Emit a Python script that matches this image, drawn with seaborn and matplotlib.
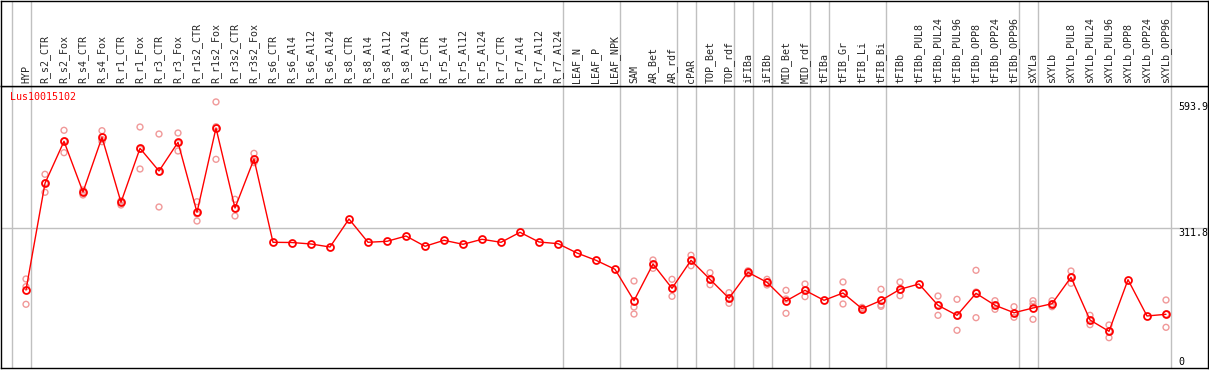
import numpy as np
import pandas as pd
import seaborn as sns
import matplotlib.pyplot as plt
import matplotlib.transforms as mtransforms

gene = "Lus10015102"

samples = [
    "HYP",
    "R_s2_CTR", "R_s2_Fox", "R_s4_CTR", "R_s4_Fox", "R_r1_CTR", "R_r1_Fox",
    "R_r3_CTR", "R_r3_Fox", "R_r1s2_CTR", "R_r1s2_Fox", "R_r3s2_CTR", "R_r3s2_Fox",
    "R_s6_CTR", "R_s6_Al4", "R_s6_Al12", "R_s6_Al24",
    "R_s8_CTR", "R_s8_Al4", "R_s8_Al12", "R_s8_Al24",
    "R_r5_CTR", "R_r5_Al4", "R_r5_Al12", "R_r5_Al24",
    "R_r7_CTR", "R_r7_Al4", "R_r7_Al12", "R_r7_Al24",
    "LEAF_N", "LEAF_P", "LEAF_NPK",
    "SAM", "AR_Bet", "AR_rdf", "cPAR", "TOP_Bet", "TOP_rdf",
    "iFIBa", "iFIBb", "MID_Bet", "MID_rdf",
    "tFIBa", "tFIB_Gr", "tFIB_Li", "tFIB_Bi",
    "tFIBb", "tFIBb_PUL8", "tFIBb_PUL24", "tFIBb_PUL96",
    "tFIBb_OPP8", "tFIBb_OPP24", "tFIBb_OPP96",
    "sXYLa", "sXYLb", "sXYLb_PUL8", "sXYLb_PUL24", "sXYLb_PUL96",
    "sXYLb_OPP8", "sXYLb_OPP24", "sXYLb_OPP96",
]

means = [
    174.1,
    412.3, 506.0, 392.9, 515.0, 369.9, 490.4,
    439.7, 503.8, 347.5, 535.7, 357.1, 466.5,
    280.6, 280.1, 276.8, 270.1,
    332.6, 280.6, 282.8, 294.6,
    271.7, 285.0, 276.1, 287.3,
    280.6, 302.9, 281.3, 277.5,
    256.7, 240.4, 220.3,
    150.2, 232.1, 177.9, 240.4, 198.0, 155.6,
    213.6, 191.3, 149.6, 173.4,
    151.1, 167.4, 132.4, 150.7,
    175.7, 187.5, 140.0, 117.6,
    166.7, 140.0, 123.4,
    133.9, 143.5, 202.5, 107.1, 81.9,
    197.1, 116.1, 119.9,
]

replicates = [
    [198.7, 181.5, 142.2],
    [432.4, 413.0, 392.2], [530.6, 506.7, 480.6], [397.3, 392.9, 386.2],
    [529.7, 509.8, 505.1], [373.4, 370.5, 363.8], [537.9, 488.8, 444.2],
    [522.3, 437.5, 359.4], [524.6, 502.2, 484.4], [371.2, 343.8, 328.1],
    [593.9, 538.6, 465.8], [376.6, 355.6, 339.3], [479.2, 462.1, 458.3],
    [], [], [], [],
    [], [], [], [],
    [], [], [], [],
    [], [], [], [],
    [], [], [],
    [194.2, 136.2, 120.5], [241.1, 232.1, 222.5], [198.0, 176.3, 160.0],
    [251.6, 241.1, 228.3], [212.7, 196.4, 185.9], [168.1, 154.0, 144.4],
    [210.0, 214.0, 217.0], [198.0, 191.3, 185.3], [173.4, 154.0, 122.1],
    [187.5, 174.1, 159.2],
    [], [192.0, 167.4, 142.9], [129.4, 132.4, 135.3], [175.7, 140.6, 137.7],
    [192.0, 174.1, 161.4], [], [160.7, 140.6, 117.6], [153.3, 116.1, 84.2],
    [218.1, 169.6, 112.3], [150.2, 140.6, 131.0], [136.8, 122.8, 113.2],
    [150.2, 142.9, 108.7], [150.2, 143.5, 136.8], [216.5, 202.5, 189.1],
    [117.6, 107.1, 96.7], [96.0, 81.9, 67.6],
    [], [], [151.8, 119.9, 90.8],
]

# group boundaries (index of first sample in each group)
group_starts = [0, 1, 29, 32, 35, 36, 38, 39, 40, 42, 43, 46, 53, 54, 61]
axis_ticks = [593.9, 311.8]

pos = np.arange(len(samples))
df_mean = pd.DataFrame({"pos": pos, "value": means})
df_rep = pd.DataFrame({
    "pos": [i for i, r in enumerate(replicates) for _ in r],
    "value": [v for r in replicates for v in r],
})

sns.set_style("white")
plt.rcParams["font.family"] = ["DejaVu Sans Mono"]
plt.rcParams["axes.linewidth"] = 1.0

W, H = 1209, 370
fig = plt.figure(figsize=(W / 100, H / 100), dpi=100)
x0, x1 = 1 / W, 1208 / W
ax = fig.add_axes([x0, (H - 368) / H, x1 - x0, (368 - 86) / H])
axh = fig.add_axes([x0, (H - 86) / H, x1 - x0, 85.5 / H], sharex=ax)

xlim = ((1 - 26) / 19, (1208 - 26) / 19)
ax.set_xlim(*xlim)
ax.set_ylim(0, 282 / 0.448)
axh.set_ylim(0, 1)

grey = "#c0c0c0"
for b in group_starts:
    ax.axvline(b - 14 / 19, color=grey, lw=1, zorder=0)
    axh.axvline(b - 14 / 19, color=grey, lw=1, zorder=0)
ax.axhline(axis_ticks[1], color=grey, lw=1, zorder=0)

sns.scatterplot(data=df_rep, x="pos", y="value", ax=ax, marker="o", s=18,
                facecolor="none", edgecolor="#f09898", linewidth=1.0, zorder=2)
sns.lineplot(data=df_mean, x="pos", y="value", ax=ax, color="red", lw=1,
             marker="o", markersize=5, markerfacecolor="none",
             markeredgecolor="red", markeredgewidth=1.3, zorder=3)

ax.text(-0.84, 605, gene, color="red", fontsize=7.2, va="center", ha="left")

xr = (1178 - 26) / 19
for t in axis_ticks:
    ax.text(xr, t, f"{t}", fontsize=7.2, va="top", ha="left", color="black")
ax.text(xr, 3, "0", fontsize=7.2, va="bottom", ha="left", color="black")

tr = mtransforms.blended_transform_factory(axh.transData, axh.transAxes)
for i, name in enumerate(samples):
    axh.text(i, 0.03, name, rotation=90, ha="center", va="bottom",
             fontsize=7.2, transform=tr)

for a in (ax, axh):
    a.set_xticks([])
    a.set_yticks([])
    a.set_xlabel("")
    a.set_ylabel("")
    for s in a.spines.values():
        s.set_color("black")
        s.set_visible(True)

fig.savefig("out.png", dpi=100)
